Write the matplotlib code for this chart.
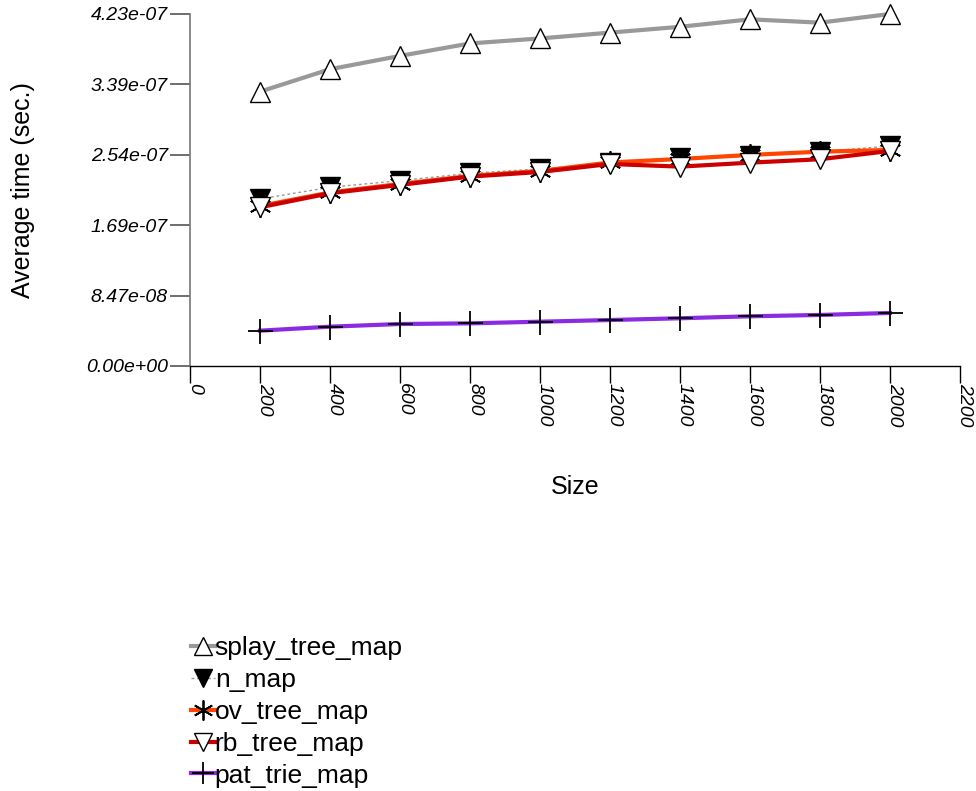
import numpy as np
import matplotlib
matplotlib.use('Agg')
import matplotlib.pyplot as plt

plt.rcParams['font.family'] = ['Liberation Sans', 'DejaVu Sans']

## Data
sizes = [200, 400, 600, 800, 1000, 1200, 1400, 1600, 1800, 2000]

splay_tree_map = [3.30e-07, 3.57e-07, 3.73e-07, 3.88e-07, 3.94e-07,
                  4.01e-07, 4.08e-07, 4.17e-07, 4.13e-07, 4.234e-07]
n_map = [2.009e-07, 2.150e-07, 2.229e-07, 2.318e-07, 2.370e-07,
         2.439e-07, 2.496e-07, 2.527e-07, 2.575e-07, 2.647e-07]
ov_tree_map = [1.925e-07, 2.087e-07, 2.190e-07, 2.286e-07, 2.346e-07,
               2.448e-07, 2.490e-07, 2.539e-07, 2.578e-07, 2.599e-07]
rb_tree_map = [1.909e-07, 2.078e-07, 2.178e-07, 2.278e-07, 2.334e-07,
               2.430e-07, 2.398e-07, 2.446e-07, 2.487e-07, 2.587e-07]
pat_trie_map = [4.25e-08, 4.73e-08, 5.05e-08, 5.13e-08, 5.33e-08,
                5.53e-08, 5.74e-08, 5.98e-08, 6.14e-08, 6.38e-08]

x_ticks = np.arange(0, 2201, 200)
y_max = 4.234e-07
y_ticks = np.linspace(0, y_max, 6)

## Plotting
fig = plt.figure(figsize=(9.76, 7.91), dpi=100)
ax = fig.add_axes([190/976, 1 - 366/791, 770/976, 352/791])

ax.plot(sizes, splay_tree_map, color='#999999', lw=3, marker='^', ms=14.5,
        mfc='white', mec='black', mew=1.0, label='splay_tree_map', zorder=3,
        clip_on=False)
ax.plot(sizes, n_map, color='#999999', lw=1, ls=(0, (2, 2)), marker='v', ms=14.5,
        mfc='black', mec='black', mew=1.0, label='n_map', zorder=4)
ax.plot(sizes, ov_tree_map, color='#ff4500', lw=3, marker=(6, 2, 0), ms=16,
        mec='black', mew=1.3, label='ov_tree_map', zorder=5)
ax.plot(sizes, rb_tree_map, color='#cc0000', lw=3, marker='v', ms=14.5,
        mfc='white', mec='black', mew=1.0, label='rb_tree_map', zorder=6)
ax.plot(sizes, pat_trie_map, color='#8a2be2', lw=3, marker='+', ms=18,
        mec='black', mew=1.3, label='pat_trie_map', zorder=7)

ax.set_xlim(0, 2200)
ax.set_ylim(0, y_max)
ax.set_xticks(x_ticks)
ax.set_xticklabels([str(v) for v in x_ticks], fontsize=14, style='italic')
ax.set_yticks(y_ticks)
ax.set_yticklabels(['%.2e' % v for v in y_ticks], fontsize=14, style='italic')

for lbl in ax.get_xticklabels():
    lbl.set_rotation(-90)
    lbl.set_rotation_mode('anchor')
    lbl.set_ha('left')
    lbl.set_va('baseline')

ax.tick_params(axis='y', length=14.4, width=1.2, pad=1.5, color='#555555')
ax.tick_params(axis='x', length=12.5, width=1.0, pad=0, color='black')

for s in ['top', 'right']:
    ax.spines[s].set_visible(False)
ax.spines['left'].set_color('#777777')
ax.spines['left'].set_linewidth(1.2)
ax.spines['bottom'].set_color('black')
ax.spines['bottom'].set_linewidth(1.0)

ax.set_xlabel('Size', fontsize=18, labelpad=35)
ax.set_ylabel('Average time (sec.)', fontsize=18)
ax.yaxis.set_label_coords(-0.201, 0.5)

ax.legend(loc='upper left', bbox_to_anchor=(191/976, 1 - 636/791),
          bbox_transform=fig.transFigure, frameon=False, fontsize=19,
          handlelength=0.9, handletextpad=0.0, labelspacing=0.3,
          borderpad=0, borderaxespad=0, markerscale=0.9)

fig.savefig('out.png', dpi=100)
